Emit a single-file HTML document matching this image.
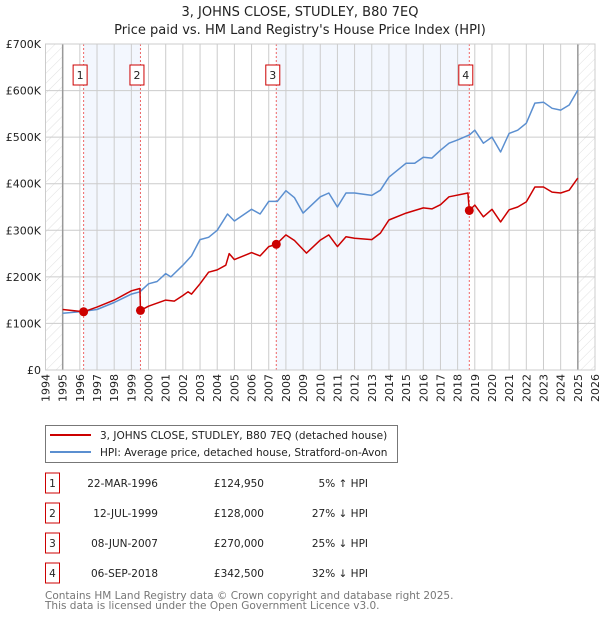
<!DOCTYPE html>
<html><head><meta charset="utf-8"><style>
body{margin:0;background:#fff;font-family:"Liberation Sans","DejaVu Sans",sans-serif;}
svg text{font-family:"DejaVu Sans","Liberation Sans",sans-serif;}
</style></head><body>
<svg id="c" width="600" height="620" xmlns="http://www.w3.org/2000/svg">
<defs><pattern id="h" width="7" height="7" patternUnits="userSpaceOnUse" patternTransform="rotate(45)"><line x1="0" y1="0" x2="0" y2="7" stroke="#d8d8d8" stroke-width="0.8"/></pattern></defs>
<text x="300" y="16" text-anchor="middle" font-size="13" fill="#222">3, JOHNS CLOSE, STUDLEY, B80 7EQ</text>
<text x="300" y="34" text-anchor="middle" font-size="13" fill="#222">Price paid vs. HM Land Registry's House Price Index (HPI)</text>
<g id="plot"></g>
<g>
<rect x="45.5" y="425.5" width="352" height="37" fill="#fff" stroke="#777"/>
<line x1="50" y1="435" x2="91" y2="435" stroke="#cc0000" stroke-width="2"/>
<text x="100" y="439" font-size="10.5" fill="#222">3, JOHNS CLOSE, STUDLEY, B80 7EQ (detached house)</text>
<line x1="50" y1="452" x2="91" y2="452" stroke="#5b8fd0" stroke-width="2"/>
<text x="100" y="456" font-size="10.5" fill="#222">HPI: Average price, detached house, Stratford-on-Avon</text>
</g>
<g id="tbl" font-size="10.5" fill="#222"></g>
<text x="45" y="599" font-size="10.5" fill="#777">Contains HM Land Registry data © Crown copyright and database right 2025.</text>
<text x="45" y="609" font-size="10.5" fill="#777">This data is licensed under the Open Government Licence v3.0.</text>
</svg>
<script>
const hpiYears=[1995,1996,1997,1998,1999,1999.5,2000,2000.5,2001,2001.3,2002,2002.5,2003,2003.5,2004,2004.6,2005,2006,2006.5,2007,2007.5,2008,2008.5,2009,2010,2010.5,2011,2011.5,2012,2013,2013.5,2014,2015,2015.5,2016,2016.5,2017,2017.5,2018,2018.7,2019,2019.5,2020,2020.5,2021,2021.5,2022,2022.5,2023,2023.5,2024,2024.5,2025];
const hpiValues=[122,125,130,145,163,168,185,190,207,200,225,245,280,285,300,335,320,345,335,362,362,385,370,337,372,380,350,380,380,375,386,414,444,444,457,455,472,487,494,505,515,487,500,468,508,515,530,573,575,562,558,569,601];
const ppYears=[1995,1996.22,1997,1998,1999,1999.5,1999.53,2000,2001,2001.5,2002,2002.3,2002.5,2003,2003.5,2004,2004.5,2004.7,2005,2006,2006.5,2007,2007.44,2008,2008.5,2009.2,2010,2010.5,2011,2011.5,2012,2013,2013.5,2014,2015,2016,2016.5,2017,2017.5,2018.6,2018.68,2019,2019.5,2020,2020.5,2021,2021.5,2022,2022.5,2023,2023.5,2024,2024.5,2025];
const ppValues=[130,124.95,135,150,170,175,128,137,150,148,160,168,163,185,210,215,225,250,237,252,245,265,270,290,278,251,279,290,265,286,283,280,294,322,337,348,346,355,372,380,342.5,354,329,345,318,344,350,361,393,393,382,380,386,412];
const saleYears=[1996.22,1999.53,2007.44,2018.68];
const saleValues=[124.95,128,270,342.5];
const saleDates=["22-MAR-1996","12-JUL-1999","08-JUN-2007","06-SEP-2018"];
const salePrices=["£124,950","£128,000","£270,000","£342,500"];
const saleHpi=["5% ↑ HPI","27% ↓ HPI","25% ↓ HPI","32% ↓ HPI"];
const yTicks=[0,100,200,300,400,500,600,700];
const yLabels=["£0","£100K","£200K","£300K","£400K","£500K","£600K","£700K"];
const xTicks=[1994,1995,1996,1997,1998,1999,2000,2001,2002,2003,2004,2005,2006,2007,2008,2009,2010,2011,2012,2013,2014,2015,2016,2017,2018,2019,2020,2021,2022,2023,2024,2025,2026];

const NS="http://www.w3.org/2000/svg";
const X0=45.5,X1=595,Y0=370,Y1=44;
const sx=y=>X0+(y-1994)/32*(X1-X0);
const sy=v=>Y0-v/700*(Y0-Y1);
function mk(tag,attrs,parent){const e=document.createElementNS(NS,tag);for(const k in attrs)e.setAttribute(k,attrs[k]);parent.appendChild(e);return e;}
const g=document.getElementById('plot');
for(let i=0;i<4;i+=2){
 const r=mk('rect',{x:sx(saleYears[i]),y:Y1,width:sx(saleYears[i+1])-sx(saleYears[i]),height:Y0-Y1,fill:'#f3f7fe'},g);
 
 
}
const h1=mk('rect',{x:X0,y:Y1,width:sx(1995)-X0,height:Y0-Y1,fill:'url(#h)'},g);


const h2=mk('rect',{x:sx(2025),y:Y1,width:X1-sx(2025),height:Y0-Y1,fill:'url(#h)'},g);


xTicks.forEach((t,i)=>{
 const l=mk('line',{x1:sx(t),x2:sx(t),y1:Y1,y2:Y0,stroke:'#ccc','stroke-width':1},g);
 
 
 const tx=mk('text',{x:0,y:0,'font-size':11,fill:'#222','text-anchor':'end',transform:`translate(${sx(t)+4},374) rotate(-90)`},g);
 tx.textContent=t;
 
 
});
yTicks.forEach((t,i)=>{
 const l=mk('line',{x1:X0,x2:X1,y1:sy(t),y2:sy(t),stroke:'#ccc','stroke-width':1},g);
 
 
 const tx=mk('text',{x:41,y:sy(t)+4,'font-size':11,fill:'#222','text-anchor':'end'},g);
 tx.textContent=yLabels[i];
 
 
});
mk('line',{x1:sx(1995),x2:sx(1995),y1:Y1,y2:Y0,stroke:'#999','stroke-width':1.5},g);
mk('line',{x1:sx(2025),x2:sx(2025),y1:Y1,y2:Y0,stroke:'#999','stroke-width':1.5},g);
saleYears.forEach((s,i)=>{
 const l=mk('line',{x1:sx(s),x2:sx(s),y1:Y1,y2:Y0,stroke:'#ee6666','stroke-width':1,'stroke-dasharray':'2,2'},g);
 
 
 const b=mk('rect',{x:sx(s)-10.5,y:65,width:14,height:20,fill:'#fff',stroke:'#cc0000'},g);
 
 
 const t=mk('text',{x:sx(s)-3.5,y:79,'font-size':11,fill:'#222','text-anchor':'middle'},g);
 t.textContent=i+1;
});
function path(xs,vs,col,name){
 const d=xs.map((x,i)=>(i?'L':'M')+sx(x).toFixed(1)+','+sy(vs[i]).toFixed(1)).join('');
 const p=mk('path',{d:d,fill:'none',stroke:col,'stroke-width':1.5,'stroke-linejoin':'round'},g);
 
 
}
path(hpiYears,hpiValues,'#5b8fd0','hpi-line');
path(ppYears,ppValues,'#cc0000','price-paid-line');
saleYears.forEach((s,i)=>{
 const c=mk('circle',{cx:sx(s),cy:sy(saleValues[i]),r:4.5,fill:'#cc0000'},g);
 
 
});
mk('rect',{x:X0,y:Y1,width:X1-X0,height:Y0-Y1,fill:'none',stroke:'#ccc'},g);
const tb=document.getElementById('tbl');
saleDates.forEach((d,i)=>{
 const cy=483+i*30;
 const b=mk('rect',{x:45.5,y:cy-10,width:14,height:20,fill:'#fff',stroke:'#cc0000'},tb);
 
 
 const n=mk('text',{x:52.5,y:cy+4,'text-anchor':'middle'},tb);n.textContent=i+1;
 const a=mk('text',{x:158,y:cy+4,'text-anchor':'end'},tb);a.textContent=d;
 
 
 const p=mk('text',{x:264,y:cy+4,'text-anchor':'end'},tb);p.textContent=salePrices[i];
 
 
 const hh=mk('text',{x:368,y:cy+4,'text-anchor':'end'},tb);hh.textContent=saleHpi[i];
 
 
});
</script>
</body></html>
